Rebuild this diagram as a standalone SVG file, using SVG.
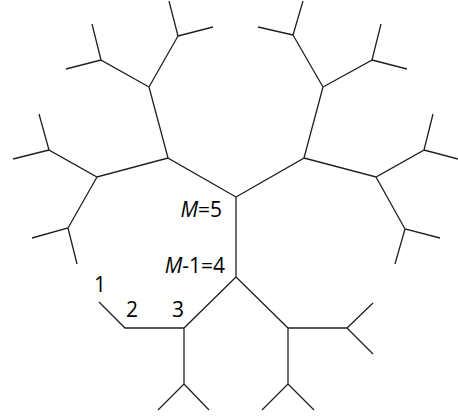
<svg xmlns="http://www.w3.org/2000/svg" width="458" height="418" viewBox="0 0 458 418">
<style>
.e{stroke:#231f20;stroke-width:1.3;fill:none;stroke-linecap:butt;stroke-linejoin:miter}
.t{font-family:"Open Sans","Noto Sans",sans-serif;font-size:21px;fill:#000}
.i{font-style:italic}
</style>
<rect width="458" height="418" fill="#fff"/>
<g id="connectors" class="e">
<path d="M236,197 L168,158 L149,87 L178,36 L169,1 M178,36 L213,27 M149,87 L101,60 L92,24 M101,60 L66,69"/>
<path d="M168,158 L97,177 L49,150 L39,114 M49,150 L13,159 M97,177 L68,228 L32,238 M68,228 L77,264"/>
<path d="M236,197 L304,158 L323,87 L293,35 L303,1 M293,35 L258,27 M323,87 L372,60 L381,24 M372,60 L407,69"/>
<path d="M304,158 L376,177 L424,150 L433,114 M424,150 L458,159 M376,177 L405,229 L440,238 M405,229 L395,264"/>
<path d="M236,197 L236,277 L288,328 L347,328 L373,303 M347,328 L373,354 M288,328 L288,384 L262,410 M288,384 L314,410"/>
<path d="M236,277 L184,328 L125,328 L99,302 M184,328 L184,384 L158,410 M184,384 L209,410"/>
</g>
<g id="labels">
<text class="t" x="222" y="217" text-anchor="end"><tspan class="i">M</tspan>=5</text>
<text class="t" x="225" y="273" text-anchor="end"><tspan class="i">M</tspan>-1=4</text>
<text class="t" x="100" y="292" text-anchor="middle">1</text>
<text class="t" x="132" y="317" text-anchor="middle">2</text>
<text class="t" x="178" y="317" text-anchor="middle">3</text>
</g>
</svg>
